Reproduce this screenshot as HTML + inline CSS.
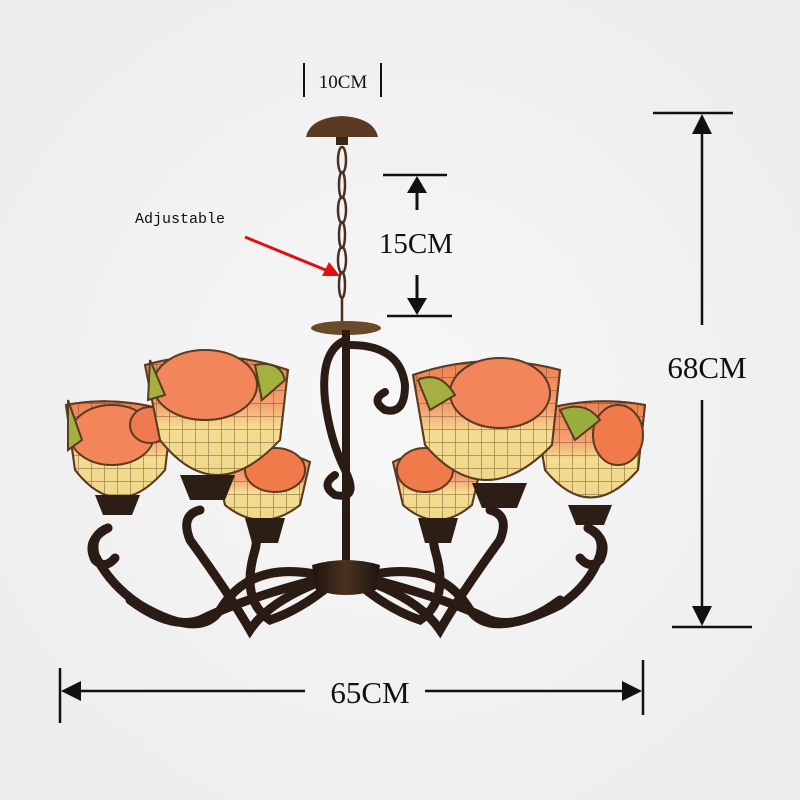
<!DOCTYPE html>
<html><head><meta charset="utf-8"><style>
html,body{margin:0;padding:0;background:#f3f3f3;}
svg{display:block}
</style></head><body>
<svg width="800" height="800" viewBox="0 0 800 800" xmlns="http://www.w3.org/2000/svg">
<defs>
<radialGradient id="bg" cx="50%" cy="50%" r="70%"><stop offset="0" stop-color="#f7f7f7"/><stop offset="1" stop-color="#ececec"/></radialGradient>
<linearGradient id="glass" x1="0" y1="0" x2="0" y2="1"><stop offset="0" stop-color="#ee8050"/><stop offset="0.4" stop-color="#f4a070"/><stop offset="0.6" stop-color="#f5dc90"/><stop offset="1" stop-color="#eed88a"/></linearGradient>
<linearGradient id="bowl" x1="0" y1="0" x2="1" y2="0"><stop offset="0" stop-color="#1e140e"/><stop offset="0.5" stop-color="#4a3220"/><stop offset="1" stop-color="#1e140e"/></linearGradient>
<pattern id="grid" width="13" height="13" patternUnits="userSpaceOnUse"><path d="M0 0H13M0 0V13" stroke="#6a4a2a" stroke-width="1.5" fill="none"/></pattern>
</defs>
<rect width="800" height="800" fill="url(#bg)"/>

<!-- 10CM -->
<line x1="304" y1="63" x2="304" y2="97" stroke="#111" stroke-width="2"/>
<line x1="381" y1="63" x2="381" y2="97" stroke="#111" stroke-width="2"/>
<text x="343" y="88" font-family="Liberation Serif, serif" font-size="19" text-anchor="middle" fill="#111">10CM</text>

<!-- canopy & chain -->
<path d="M306 137 Q310 118 342 116 Q374 118 378 137 Z" fill="#5a3a22"/>
<rect x="336" y="137" width="12" height="8" fill="#3a2616"/>
<g stroke="#4a3020" stroke-width="2.5" fill="none">
<ellipse cx="342" cy="160" rx="4" ry="13"/><ellipse cx="342" cy="185" rx="3" ry="13"/><ellipse cx="342" cy="210" rx="4" ry="13"/><ellipse cx="342" cy="235" rx="3" ry="13"/><ellipse cx="342" cy="260" rx="4" ry="13"/><ellipse cx="342" cy="285" rx="3" ry="13"/><line x1="342" y1="298" x2="342" y2="322"/>
</g>

<!-- Adjustable -->
<text x="135" y="223" font-family="Liberation Mono, monospace" font-size="15" fill="#111">Adjustable</text>
<line x1="245" y1="237" x2="328" y2="271" stroke="#e01010" stroke-width="3"/>
<polygon points="340,276 322,276 329,262" fill="#e01010"/>

<!-- 15CM -->
<line x1="383" y1="175" x2="447" y2="175" stroke="#111" stroke-width="2.5"/>
<line x1="387" y1="316" x2="452" y2="316" stroke="#111" stroke-width="2.5"/>
<line x1="417" y1="185" x2="417" y2="210" stroke="#111" stroke-width="3"/>
<polygon points="417,176 407,193 427,193" fill="#111"/>
<line x1="417" y1="275" x2="417" y2="305" stroke="#111" stroke-width="3"/>
<polygon points="417,315 407,298 427,298" fill="#111"/>
<text x="416" y="253" font-family="Liberation Serif, serif" font-size="29" text-anchor="middle" fill="#111">15CM</text>

<!-- 68CM -->
<line x1="653" y1="113" x2="733" y2="113" stroke="#111" stroke-width="2.5"/>
<line x1="672" y1="627" x2="752" y2="627" stroke="#111" stroke-width="2.5"/>
<line x1="702" y1="125" x2="702" y2="325" stroke="#111" stroke-width="2.5"/>
<polygon points="702,114 692,134 712,134" fill="#111"/>
<line x1="702" y1="400" x2="702" y2="615" stroke="#111" stroke-width="2.5"/>
<polygon points="702,626 692,606 712,606" fill="#111"/>
<text x="707" y="378" font-family="Liberation Serif, serif" font-size="31" text-anchor="middle" fill="#111">68CM</text>

<!-- 65CM -->
<line x1="60" y1="668" x2="60" y2="723" stroke="#111" stroke-width="2.5"/>
<line x1="643" y1="660" x2="643" y2="715" stroke="#111" stroke-width="2.5"/>
<line x1="70" y1="691" x2="305" y2="691" stroke="#111" stroke-width="2.5"/>
<polygon points="61,691 81,681 81,701" fill="#111"/>
<line x1="425" y1="691" x2="632" y2="691" stroke="#111" stroke-width="2.5"/>
<polygon points="642,691 622,681 622,701" fill="#111"/>
<text x="370" y="703" font-family="Liberation Serif, serif" font-size="31" text-anchor="middle" fill="#111">65CM</text>

<!-- center stem -->
<ellipse cx="346" cy="328" rx="35" ry="7" fill="#6a4a2a"/>
<rect x="342" y="330" width="8" height="240" fill="#2a1c14"/>
<g stroke="#2a1c14" stroke-width="8" fill="none" stroke-linecap="round">
<path d="M346 340 Q320 350 325 400 Q330 440 345 470 Q360 500 335 495 Q320 485 335 475"/>
<path d="M350 345 Q400 345 405 385 Q405 415 385 410 Q370 400 385 392"/>
</g>

<!-- arms -->
<g stroke="#2a1c14" stroke-width="9" fill="none" stroke-linecap="round">
<path d="M320 575 Q250 560 220 610 Q200 640 140 605 Q110 585 95 555 Q90 535 108 528"/>
<path d="M325 580 Q270 600 250 630 Q230 595 190 540 Q180 515 200 510"/>
<path d="M330 585 Q300 610 270 620 Q240 600 255 550 Q260 530 250 520"/>
<path d="M370 575 Q440 560 470 610 Q490 640 560 605 Q590 585 600 555 Q605 535 588 528"/>
<path d="M365 580 Q420 600 440 630 Q460 595 500 540 Q510 515 490 510"/>
<path d="M360 585 Q390 610 420 620 Q450 600 435 550 Q430 530 440 520"/>
<path d="M315 580 Q240 600 200 620 Q170 630 130 600"/>
<path d="M375 580 Q450 600 490 620 Q520 630 560 600"/>
<path d="M108 528 Q85 540 95 560 Q105 570 115 558"/>
<path d="M588 528 Q610 540 600 560 Q590 570 580 558"/>
</g>
<path d="M312 565 Q346 555 380 565 L376 590 Q346 600 316 590 Z" fill="url(#bowl)"/>

<!-- shades -->
<g stroke="#5a3a20" stroke-width="2">
<path d="M215 462 Q262 440 310 462 L300 505 Q262 535 225 505 Z" fill="url(#glass)"/>
<path d="M215 462 Q262 440 310 462 L300 505 Q262 535 225 505 Z" fill="url(#grid)" opacity="0.6"/>
<ellipse cx="275" cy="470" rx="30" ry="22" fill="#f07a4a"/>
<path d="M393 462 Q437 440 482 462 L472 505 Q437 535 403 505 Z" fill="url(#glass)"/>
<path d="M393 462 Q437 440 482 462 L472 505 Q437 535 403 505 Z" fill="url(#grid)" opacity="0.6"/>
<ellipse cx="425" cy="470" rx="28" ry="22" fill="#f07a4a"/>
<path d="M66 405 Q118 395 172 412 L165 470 Q118 525 75 470 Z" fill="url(#glass)"/>
<path d="M66 405 Q118 395 172 412 L165 470 Q118 525 75 470 Z" fill="url(#grid)" opacity="0.6"/>
<ellipse cx="112" cy="435" rx="42" ry="30" fill="#f2855a"/>
<ellipse cx="150" cy="425" rx="20" ry="18" fill="#f07a50"/>
<path d="M68 400 L82 440 L68 450 Z" fill="#a4b040"/>
<path d="M535 412 Q590 395 645 405 L638 470 Q590 525 545 470 Z" fill="url(#glass)"/>
<path d="M535 412 Q590 395 645 405 L638 470 Q590 525 545 470 Z" fill="url(#grid)" opacity="0.6"/>
<ellipse cx="618" cy="435" rx="25" ry="30" fill="#f07a4a"/>
<path d="M560 410 Q585 400 600 420 L575 440 Z" fill="#9aae40"/>
<path d="M145 365 Q215 345 288 370 L280 440 Q215 510 160 440 Z" fill="url(#glass)"/>
<path d="M145 365 Q215 345 288 370 L280 440 Q215 510 160 440 Z" fill="url(#grid)" opacity="0.6"/>
<ellipse cx="205" cy="385" rx="52" ry="35" fill="#f2855a"/>
<path d="M150 360 L165 395 L148 400 Z" fill="#a4b040"/>
<path d="M255 365 Q280 360 285 380 L262 400 Z" fill="#a4b040"/>
<path d="M413 375 Q485 350 560 370 L552 445 Q485 515 425 445 Z" fill="url(#glass)"/>
<path d="M413 375 Q485 350 560 370 L552 445 Q485 515 425 445 Z" fill="url(#grid)" opacity="0.6"/>
<ellipse cx="500" cy="393" rx="50" ry="35" fill="#f2855a"/>
<path d="M418 380 Q440 370 455 395 L430 410 Z" fill="#a4b040"/>
</g>
<g fill="#2c1e14">
<path d="M95 495 L140 495 L132 515 L103 515 Z"/>
<path d="M180 475 L235 475 L225 500 L190 500 Z"/>
<path d="M245 518 L285 518 L278 543 L252 543 Z"/>
<path d="M418 518 L458 518 L451 543 L425 543 Z"/>
<path d="M472 483 L527 483 L517 508 L482 508 Z"/>
<path d="M568 505 L612 505 L604 525 L576 525 Z"/>
</g>
</svg>
</body></html>
